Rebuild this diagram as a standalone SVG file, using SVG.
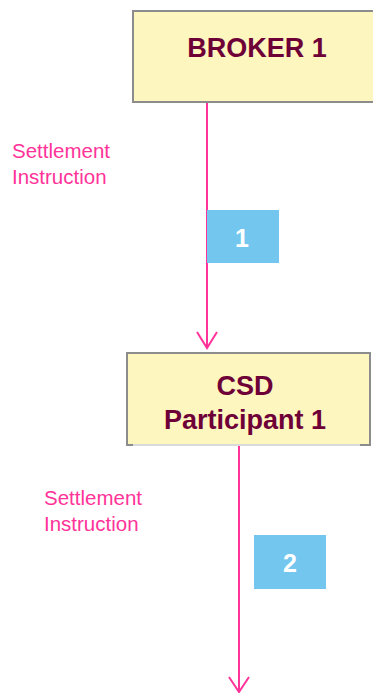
<svg xmlns="http://www.w3.org/2000/svg" width="373" height="693" viewBox="0 0 373 693">
  <defs>
    <style>
      .box { fill: #FEF6BF; stroke: #8C8C8C; stroke-width: 2; }
      .edge { fill: none; stroke: #8C8C8C; stroke-width: 2; }
      .edge-light { fill: none; stroke: #DADADA; stroke-width: 2; }
      .title { font-family: "Liberation Sans", Arial, sans-serif; font-weight: bold; font-size: 27px; fill: #6E0038; text-anchor: middle; }
      .flow { stroke: #FF3399; stroke-width: 2; fill: none; }
      .label { font-family: "Liberation Sans", Arial, sans-serif; font-size: 20.5px; fill: #FF3399; }
      .badge { fill: #73C6EE; }
      .num { font-family: "Liberation Sans", Arial, sans-serif; font-weight: bold; font-size: 25px; fill: #FFFFFF; text-anchor: middle; }
    </style>
  </defs>

  <g id="connectors">
    <!-- Broker 1 to CSD Participant 1 -->
    <line class="flow" x1="207" y1="103" x2="207" y2="348"/>
    <path class="flow" d="M197,332 L207,348 L217,332"/>
    <!-- CSD Participant 1 downward -->
    <line class="flow" x1="239" y1="446" x2="239" y2="692"/>
    <path class="flow" d="M229,677 L239,692 L249,677"/>
  </g>

  <g id="broker-1">
    <rect class="box" x="133" y="11" width="245" height="91"/>
    <text class="title" x="257" y="57">BROKER 1</text>
  </g>

  <g id="csd-participant-1">
    <rect x="127" y="353" width="243" height="92" fill="#FEF6BF"/>
    <path class="edge-light" d="M127,445 H370"/>
    <path class="edge" d="M133,445 H127 V353 H370 V445 H360"/>
    <text class="title" x="245" y="395">CSD</text>
    <text class="title" x="245" y="429">Participant 1</text>
  </g>

  <g id="label-1">
    <text class="label" x="12" y="158">Settlement</text>
    <text class="label" x="12" y="184">Instruction</text>
  </g>

  <g id="label-2">
    <text class="label" x="44" y="505">Settlement</text>
    <text class="label" x="44" y="531">Instruction</text>
  </g>

  <g id="step-1">
    <rect class="badge" x="207" y="210" width="72" height="53"/>
    <text class="num" x="242" y="247">1</text>
  </g>

  <g id="step-2">
    <rect class="badge" x="254" y="535" width="72" height="54"/>
    <text class="num" x="290" y="572">2</text>
  </g>
</svg>
